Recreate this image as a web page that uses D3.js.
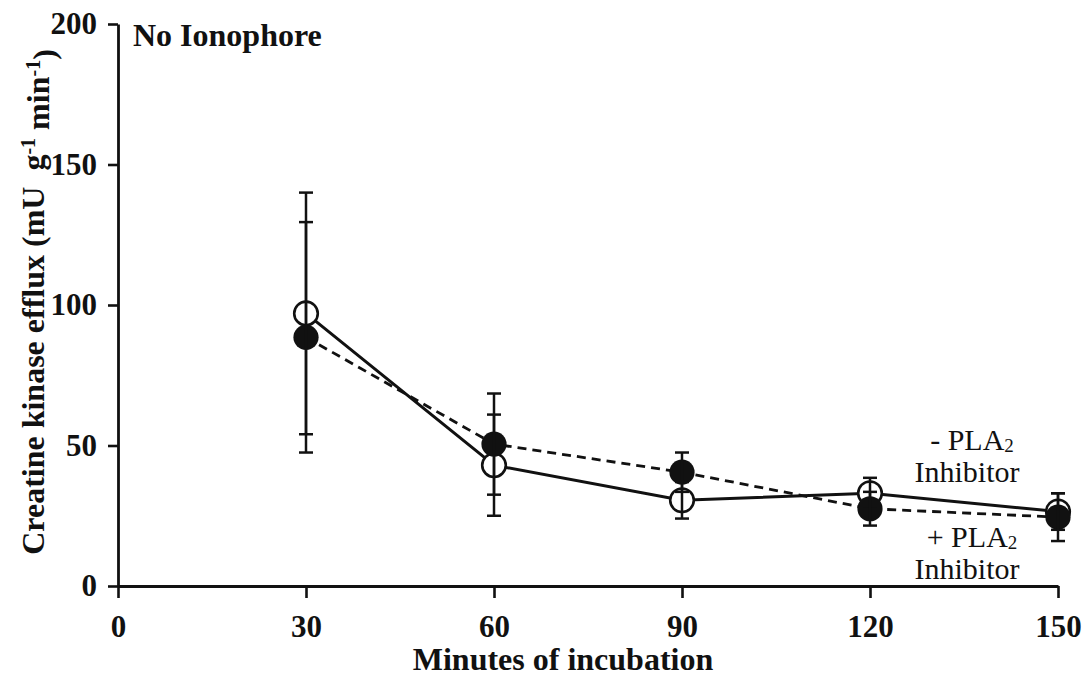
<!DOCTYPE html>
<html>
<head>
<meta charset="utf-8">
<script src="https://cdn.jsdelivr.net/npm/d3@7"></script>
<style>
  html, body { margin: 0; padding: 0; background: #fff; }
  svg { display: block; }
  text { font-family: "Liberation Serif", "Times New Roman", serif; fill: #111; }
</style>
</head>
<body>
<svg id="chart" width="1083" height="677"></svg>
<script>
// Sampling times (minutes of incubation)
const minutes = [30, 60, 90, 120, 150];

// Creatine kinase efflux without PLA2 inhibitor (open circles, solid line)
const withoutInhibitor = [97, 43, 30.5, 33, 26.5];
const withoutInhibitorErr = [43, 18, 6.5, 5.5, 6.5];

// Creatine kinase efflux with PLA2 inhibitor (filled circles, dashed line)
const withInhibitor = [88.5, 50.5, 40.5, 27.5, 24.5];
const withInhibitorErr = [41, 18, 7, 6, 8.5];

// Axis ticks
const xTicks = [0, 30, 60, 90, 120, 150];
const yTicks = [0, 50, 100, 150, 200];

const svg = d3.select("#chart");
const ink = "#111";

const x = d3.scaleLinear().domain([0, 150]).range([118, 1058]);
const y = d3.scaleLinear().domain([0, 200]).range([586, 24]);

// Axes
const xAxis = svg.append("g")
  .attr("transform", `translate(0,${y(0)})`)
  .call(d3.axisBottom(x).tickValues(xTicks).tickSize(12).tickSizeOuter(0).tickPadding(17));
const yAxis = svg.append("g")
  .attr("transform", `translate(${x(0)},0)`)
  .call(d3.axisLeft(y).tickValues(yTicks).tickSize(10).tickSizeOuter(0).tickPadding(11));

[xAxis, yAxis].forEach(g => {
  g.selectAll("path.domain").attr("stroke", ink).attr("stroke-width", 2.8);
  g.selectAll(".tick line").attr("stroke", ink).attr("stroke-width", 2.6);
  g.selectAll(".tick text")
    .attr("fill", ink)
    .style("font-family", '"Liberation Serif", "Times New Roman", serif')
    .style("font-size", "31px")
    .style("font-weight", "bold");
});

// Axis titles
svg.append("text")
  .attr("x", 563).attr("y", 670)
  .attr("text-anchor", "middle")
  .style("font-size", "32px").style("font-weight", "bold")
  .text("Minutes of incubation");

const yTitle = svg.append("text")
  .attr("transform", "translate(44,302) rotate(-90)")
  .attr("text-anchor", "middle")
  .style("font-size", "32px").style("font-weight", "bold");
yTitle.append("tspan").text("Creatine kinase efflux (mU\u00a0\u00a0g");
yTitle.append("tspan").attr("dy", "-0.45em").style("font-size", "20px").text("-1");
yTitle.append("tspan").attr("dy", "0.45em").text(" min");
yTitle.append("tspan").attr("dy", "-0.45em").style("font-size", "20px").text("-1");
yTitle.append("tspan").attr("dy", "0.45em").text(")");

// Panel label
svg.append("text")
  .attr("x", 133).attr("y", 46)
  .style("font-size", "32px").style("font-weight", "bold")
  .text("No Ionophore");

// Series lines
const lineGen = d3.line().x(d => x(d[0])).y(d => y(d[1]));
const seriesOpen = minutes.map((m, i) => [m, withoutInhibitor[i], withoutInhibitorErr[i]]);
const seriesFilled = minutes.map((m, i) => [m, withInhibitor[i], withInhibitorErr[i]]);

svg.append("path")
  .datum(seriesFilled)
  .attr("d", lineGen)
  .attr("fill", "none").attr("stroke", ink)
  .attr("stroke-width", 2.8).attr("stroke-dasharray", "9,6");

svg.append("path")
  .datum(seriesOpen)
  .attr("d", lineGen)
  .attr("fill", "none").attr("stroke", ink)
  .attr("stroke-width", 3);

// Markers
const r = 11.8;
svg.append("g").selectAll("circle").data(seriesOpen).join("circle")
  .attr("cx", d => x(d[0])).attr("cy", d => y(d[1])).attr("r", r)
  .attr("fill", "#fff").attr("stroke", ink).attr("stroke-width", 2.6);

svg.append("g").selectAll("circle").data(seriesFilled).join("circle")
  .attr("cx", d => x(d[0])).attr("cy", d => y(d[1])).attr("r", r + 0.8)
  .attr("fill", ink);

// Error bars (mean ± SE) with caps
const capHalf = 7;
function errorBars(data) {
  const g = svg.append("g").attr("stroke", ink).attr("stroke-width", 2.5);
  g.selectAll("line.v").data(data).join("line").attr("class", "v")
    .attr("x1", d => x(d[0])).attr("x2", d => x(d[0]))
    .attr("y1", d => y(d[1] + d[2])).attr("y2", d => y(d[1] - d[2]));
  g.selectAll("line.t").data(data).join("line").attr("class", "t")
    .attr("x1", d => x(d[0]) - capHalf).attr("x2", d => x(d[0]) + capHalf)
    .attr("y1", d => y(d[1] + d[2])).attr("y2", d => y(d[1] + d[2]));
  g.selectAll("line.b").data(data).join("line").attr("class", "b")
    .attr("x1", d => x(d[0]) - capHalf).attr("x2", d => x(d[0]) + capHalf)
    .attr("y1", d => y(d[1] - d[2])).attr("y2", d => y(d[1] - d[2]));
}
errorBars(seriesOpen);
errorBars(seriesFilled);

// Series labels
function seriesLabel(sign, cx, baseline) {
  const t1 = svg.append("text")
    .attr("x", cx).attr("y", baseline)
    .attr("text-anchor", "middle")
    .style("font-size", "30px");
  t1.append("tspan").text(sign + " PLA");
  t1.append("tspan").attr("dy", "0.08em").style("font-size", "19px").text("2");
  svg.append("text")
    .attr("x", cx - 5).attr("y", baseline + 32)
    .attr("text-anchor", "middle")
    .style("font-size", "30px")
    .text("Inhibitor");
}
seriesLabel("-", 972, 450);
seriesLabel("+", 972, 547);
</script>
</body>
</html>
